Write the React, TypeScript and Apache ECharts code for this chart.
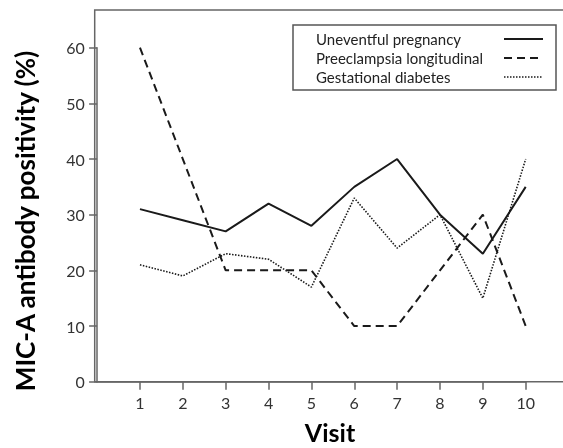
import React, { useEffect, useRef } from "react";
import * as echarts from "echarts";

const visits = [1, 2, 3, 4, 5, 6, 7, 8, 9, 10];
const uneventful = [31, 29, 27, 32, 28, 35, 40, 30, 23, 35];
const preeclampsia = [60, 40, 20, 20, 20, 10, 10, 20, 30, 10];
const gestational = [21, 19, 23, 22, 17, 33, 24, 30, 15, 40];
const seriesNames = ["Uneventful pregnancy", "Preeclampsia longitudinal", "Gestational diabetes"];
const yTitle = "MIC-A antibody positivity (%)";
const xTitle = "Visit";

const FONT = "Lato";
const LINE_COLOR = "#1a1a1a";
const lineStyles: any[] = [
  { type: "solid", width: 2 },
  { type: [8, 5], width: 2 },
  { type: [1.5, 1.5], width: 1.6 },
];

export default function App() {
  const ref = useRef<HTMLDivElement>(null);
  useEffect(() => {
    if (!ref.current) return;
    const chart = echarts.init(ref.current, null, { renderer: "svg" });
    const allValues = [uneventful, preeclampsia, gestational];
    const series = allValues.map((vals, i) => ({
      type: "line",
      name: seriesNames[i],
      data: visits.map((v, j) => [v, vals[j]]),
      showSymbol: false,
      symbol: "none",
      lineStyle: { color: LINE_COLOR, ...lineStyles[i] },
      z: 3,
    }));
    const legendGraphics: any[] = [
      {
        type: "rect",
        shape: { x: 293, y: 25, width: 263, height: 65 },
        style: { fill: "#fff", stroke: "#555", lineWidth: 1.5 },
        z: 10,
      },
    ];
    seriesNames.forEach((name, i) => {
      const y = 39 + i * 19;
      legendGraphics.push({
        type: "text",
        x: 316,
        y,
        style: { text: name, font: `15px ${FONT}`, fill: "#222", verticalAlign: "middle" },
        z: 11,
      });
      legendGraphics.push({
        type: "line",
        shape: { x1: 504, y1: y, x2: 543, y2: y },
        style: {
          stroke: LINE_COLOR,
          lineWidth: lineStyles[i].width,
          lineDash: lineStyles[i].type === "solid" ? null : lineStyles[i].type,
        },
        z: 11,
      });
    });
    chart.setOption({
      animation: false,
      grid: { left: 97.1, right: 37.3, top: 47.7, bottom: 66.3 },
      xAxis: {
        type: "value",
        min: 0,
        max: 10,
        interval: 1,
        axisLine: { show: true, lineStyle: { color: "#666", width: 1.5 } },
        axisTick: { show: true, length: 8, lineStyle: { color: "#666", width: 1.5 } },
        splitLine: { show: false },
        axisLabel: {
          showMinLabel: false,
          margin: 13,
          color: "#333",
          fontFamily: FONT,
          fontSize: 16,
        },
      },
      yAxis: {
        type: "value",
        min: 0,
        max: 60,
        interval: 10,
        offset: 2.4,
        axisLine: { show: true, lineStyle: { color: "#666", width: 1.5 } },
        axisTick: { show: true, length: 8, lineStyle: { color: "#666", width: 1.5 } },
        splitLine: { show: false },
        axisLabel: {
          margin: 10,
          color: "#333",
          fontFamily: FONT,
          fontSize: 16,
        },
      },
      graphic: [
        {
          type: "polyline",
          shape: { points: [[563, 10], [94.7, 10], [94.7, 381.7], [563, 381.7]] },
          style: { stroke: "#666", lineWidth: 1.5, fill: null },
          z: 1,
        },
        {
          type: "text",
          x: 25,
          y: 221,
          rotation: Math.PI / 2,
          style: {
            text: yTitle,
            font: `bold 26px ${FONT}`,
            fill: "#000",
            align: "center",
            verticalAlign: "middle",
          },
        },
        {
          type: "text",
          x: 330,
          y: 432,
          style: {
            text: xTitle,
            font: `bold 25px ${FONT}`,
            fill: "#000",
            align: "center",
            verticalAlign: "middle",
          },
        },
        ...legendGraphics,
      ],
      series,
    });
    return () => chart.dispose();
  }, []);
  return <div ref={ref} style={{ position: "fixed", left: 0, top: 0, width: 563, height: 448 }} />;
}
